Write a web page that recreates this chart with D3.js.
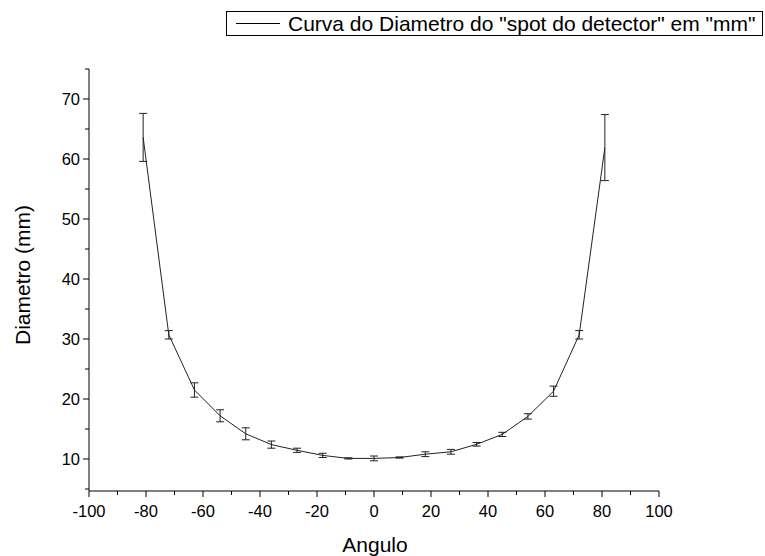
<!DOCTYPE html>
<html><head><meta charset="utf-8">
<script src="https://cdn.jsdelivr.net/npm/d3@7"></script>
<style>
body{margin:0;background:#fff;}
text{font-family:"Liberation Sans",Arial,sans-serif;fill:#000;}
</style></head>
<body><svg id="c" width="765" height="556"></svg>
<script>
const angles = [-81,-72,-63,-54,-45,-36,-27,-18,-9,0,9,18,27,36,45,54,63,72,81];
const diam   = [63.6,30.7,21.5,17.2,14.2,12.4,11.45,10.6,10.1,10.1,10.25,10.8,11.2,12.45,14.1,17.1,21.3,30.7,61.9];
const errs   = [4.0,0.7,1.2,1.0,1.0,0.6,0.35,0.35,0.1,0.4,0.1,0.4,0.4,0.3,0.35,0.45,0.85,0.7,5.5];
const xTicks = [-100,-80,-60,-40,-20,0,20,40,60,80,100];
const yTicks = [10,20,30,40,50,60,70];
const legendLabel = 'Curva do Diametro do "spot do detector" em "mm"';

const svg = d3.select("#c");
const x = d3.scaleLinear().domain([-100,100]).range([89,659]);
const y = d3.scaleLinear().domain([5,75]).range([489,69]);
const x0 = 89, y0 = 491;

// X axis
const gx = svg.append("g").attr("transform",`translate(0,${y0})`);
gx.append("line").attr("x1",x(-100)).attr("x2",x(100)).attr("stroke","#000");
d3.range(-90,100,20).forEach(v=>gx.append("line").attr("x1",x(v)).attr("x2",x(v)).attr("y1",0).attr("y2",4).attr("stroke","#000"));
xTicks.forEach(v=>{
  gx.append("line").attr("x1",x(v)).attr("x2",x(v)).attr("y1",0).attr("y2",6).attr("stroke","#000");
  gx.append("text").attr("x",x(v)).attr("y",26).attr("text-anchor","middle").attr("font-size",16.5).text(v);
});
// Y axis
const gy = svg.append("g").attr("transform",`translate(${x0},0)`);
gy.append("line").attr("y1",y0).attr("y2",y(75)).attr("stroke","#000");
d3.range(5,76,10).forEach(v=>gy.append("line").attr("y1",y(v)).attr("y2",y(v)).attr("x1",0).attr("x2",-4).attr("stroke","#000"));
yTicks.forEach(v=>{
  gy.append("line").attr("y1",y(v)).attr("y2",y(v)).attr("x1",0).attr("x2",-6).attr("stroke","#000");
  gy.append("text").attr("x",-9).attr("y",y(v)).attr("dy","0.35em").attr("text-anchor","end").attr("font-size",16.5).text(v);
});
// Titles
svg.append("text").attr("x",375).attr("y",552).attr("text-anchor","middle").attr("font-size",21).text("Angulo");
svg.append("text").attr("transform","translate(30,275) rotate(-90)").attr("text-anchor","middle").attr("font-size",21).text("Diametro (mm)");

// Error bars
const eb = svg.append("g").attr("stroke","#222").attr("stroke-width",1);
angles.forEach((a,i)=>{
  const cx = x(a), t = y(diam[i]+errs[i]), b = y(diam[i]-errs[i]);
  eb.append("line").attr("x1",cx).attr("x2",cx).attr("y1",t).attr("y2",b);
  eb.append("line").attr("x1",cx-4).attr("x2",cx+4).attr("y1",t).attr("y2",t);
  eb.append("line").attr("x1",cx-4).attr("x2",cx+4).attr("y1",b).attr("y2",b);
});
// Line
const line = d3.line().x((d,i)=>x(angles[i])).y(d=>y(d));
svg.append("path").datum(diam).attr("d",line).attr("fill","none").attr("stroke","#222").attr("stroke-width",1);

// Legend
svg.append("rect").attr("x",226.5).attr("y",11.5).attr("width",536).attr("height",24).attr("fill","#fff").attr("stroke","#000");
svg.append("line").attr("x1",236).attr("x2",280).attr("y1",23.5).attr("y2",23.5).attr("stroke","#000");
svg.append("text").attr("x",288).attr("y",23.5).attr("dy","0.35em").attr("font-size",21).text(legendLabel);
</script></body></html>
